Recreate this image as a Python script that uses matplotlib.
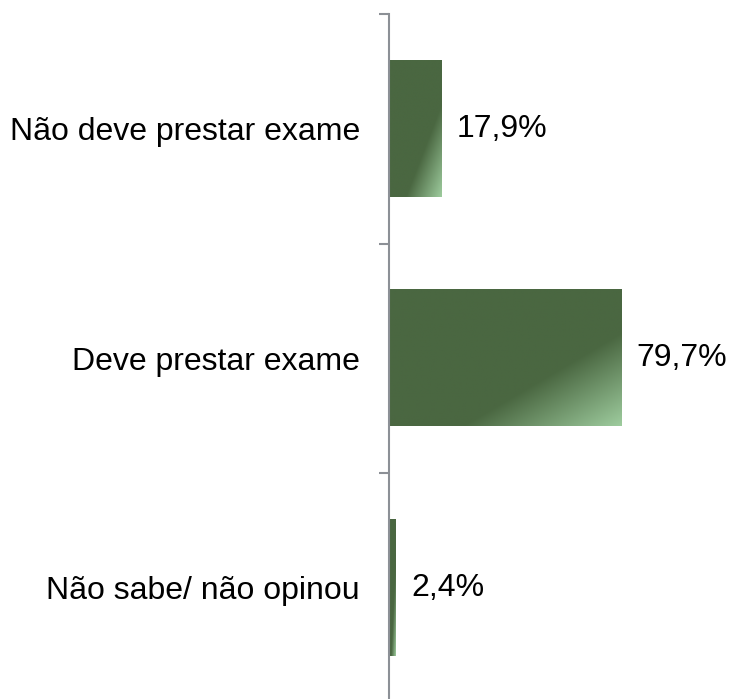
import numpy as np
import matplotlib.pyplot as plt

categorias = ["Não sabe/ não opinou", "Deve prestar exame", "Não deve prestar exame"]
valores = [2.4, 79.7, 17.9]
rotulos = ["2,4%", "79,7%", "17,9%"]

plt.rcParams['font.family'] = ['Liberation Sans', 'DejaVu Sans']

escuro = np.array([74, 103, 65]) / 255
claro = np.array([158, 204, 158]) / 255

fig = plt.figure(figsize=(7.32, 6.99), dpi=100)
ax = fig.add_axes([389 / 732, -3.5 / 699, (720 - 389) / 732, 688.5 / 699])

h = 0.593
y = np.arange(len(categorias))

# gradiente diagonal, canto inferior direito mais claro
u = np.linspace(0, 1, 200)
v = np.linspace(0, 1, 200)
U, V = np.meshgrid(u, v)
t = (U + V) / 2
t = np.clip((t - 0.66) / 0.34, 0, 1)
img = escuro[None, None, :] * (1 - t[..., None]) + claro[None, None, :] * t[..., None]

for yi, val, rot in zip(y, valores, rotulos):
    ax.imshow(img, extent=(0, val, yi - h / 2, yi + h / 2), aspect='auto',
              origin='upper', interpolation='bilinear', zorder=2)
    ax.text(val + 5.2, yi, rot, va='center', ha='left', fontsize=23)

ax.set_xlim(0, 113.7)
ax.set_ylim(-0.5, 2.5)
ax.set_yticks(y)
ax.set_yticklabels(categorias, fontsize=23)
ax.tick_params(axis='y', which='major', length=0, pad=21)
ax.set_yticks([-0.5, 0.5, 1.5, 2.5], minor=True)
ax.tick_params(axis='y', which='minor', length=7, width=1.5, color='#8c9096')
ax.set_xticks([])
for s in ['top', 'right', 'bottom']:
    ax.spines[s].set_visible(False)
ax.spines['left'].set_color('#8c9096')
ax.spines['left'].set_linewidth(1.5)

fig.savefig('out.png', dpi=100)
